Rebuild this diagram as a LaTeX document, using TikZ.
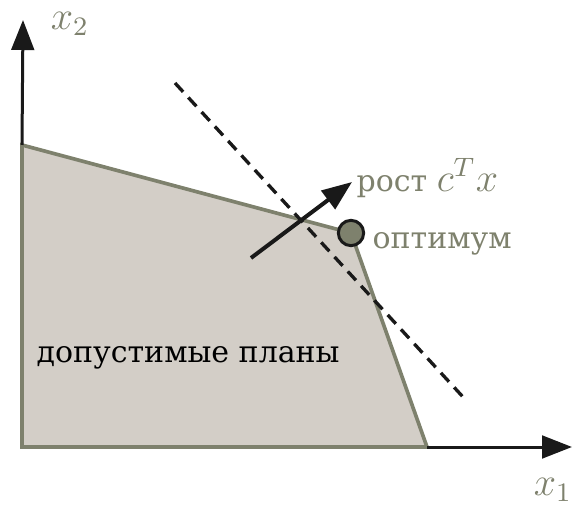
\documentclass[tikz,border=0pt]{standalone}
\usepackage{fontspec}
\setmainfont{DejaVu Serif}
\usetikzlibrary{arrows.meta,positioning}
\definecolor{planfill}{RGB}{211,206,199}
\definecolor{planedge}{RGB}{126,129,109}

\begin{document}
\begin{tikzpicture}[
    x=0.3pt, y=-0.3pt,
    font=\fontsize{9}{11}\selectfont,
    axis/.style={-{Triangle[length=9pt,width=6.8pt]}, line width=0.9pt, black!90},
    region/.style={fill=planfill, draw=planedge, line width=1.1pt, line join=miter},
    level/.style={dashed, dash pattern=on 3.6pt off 2.3pt, line width=1pt, black!90},
    growarrow/.style={-{Triangle[length=9pt,width=6.8pt]}, line width=1.2pt, black!90},
    optdot/.style={circle, draw=black!90, fill=planedge, line width=0.9pt, minimum size=7.6pt, inner sep=0pt},
    lbl/.style={text=planedge, inner sep=0pt},
    mlbl/.style={lbl, font=\fontsize{12}{14}\selectfont}
]
\useasboundingbox (0,0) rectangle (572,508);

% corners of the feasible set
\coordinate (O) at (22,447);
\coordinate (A) at (22,145);
\coordinate (B) at (351,233);
\coordinate (C) at (427,447);

% feasible region
\draw[region] (O) -- (A) -- (B) -- (C) -- cycle;

% axes
\coordinate (xend) at (572,447);
\coordinate (yend) at (23,20);
\draw[axis] (C) -- (xend);
\draw[axis] (A) -- (yend);
\node[mlbl] (x1) at (553,490) {$x_1$};
\node[mlbl] (x2) at (70,24) {$x_2$};

% level line of the objective
\coordinate (l1) at (175,83);
\coordinate (l2) at (463,397);
\draw[level] (l1) -- (l2);

% growth direction
\coordinate (g1) at (251,258);
\coordinate (g2) at (352,182);
\draw[growarrow] (g1) -- (g2);
\node[lbl, anchor=west] (growlbl) at (356,178) {рост \fontsize{12}{14}\selectfont$c^T x$};

% optimum
\node[optdot] (opt) at (B) {};
\node[lbl, anchor=west] (optlbl) at (372,244) {оптимум};

\node[anchor=west, inner sep=0pt] (plans) at (36,358) {допустимые планы};

\end{tikzpicture}
\end{document}
